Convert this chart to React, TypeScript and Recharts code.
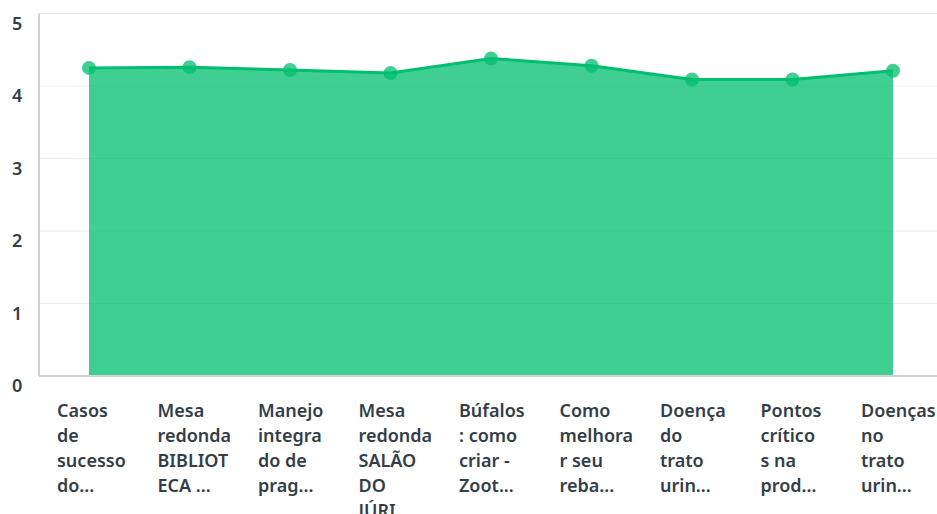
import React from 'react';
import { AreaChart, Area, XAxis, YAxis, CartesianGrid } from 'recharts';

const categories = [
  'Casos\nde\nsucesso\ndo...',
  'Mesa\nredonda\nBIBLIOT\nECA ...',
  'Manejo\nintegra\ndo de\nprag...',
  'Mesa\nredonda\nSALÃO\nDO\nJÚRI',
  'Búfalos\n: como\ncriar -\nZoot...',
  'Como\nmelhora\nr seu\nreba...',
  'Doença\ndo\ntrato\nurin...',
  'Pontos\ncrítico\ns na\nprod...',
  'Doenças\nno\ntrato\nurin...',
];

const scores = [4.25, 4.26, 4.22, 4.18, 4.38, 4.28, 4.09, 4.09, 4.21];

const yTicks = [0, 1, 2, 3, 4, 5];

const data = categories.map((name, i) => ({ name, score: scores[i] }));

const FONT = '"Noto Sans", "Open Sans", sans-serif';
const TEXT = '#333e48';

const XTick = ({ x, y, payload }: any) => {
  const lines = String(payload.value).split('\n');
  return (
    <text x={x - 32} y={y + 33} textAnchor="start" fill={TEXT} fontFamily={FONT} fontSize={18} fontWeight={600}>
      {lines.map((l, i) => (
        <tspan key={i} x={x - 32} dy={i === 0 ? 0 : 25}>
          {l}
        </tspan>
      ))}
    </text>
  );
};

const YTick = ({ y, payload }: any) => (
  <text x={12} y={y + 9} dominantBaseline="central" textAnchor="start" fill={TEXT} fontFamily={FONT} fontSize={18} fontWeight={600}>
    {payload.value}
  </text>
);

export default function App() {
  return (
    <div style={{ position: 'absolute', left: 0, top: 0, width: 937, height: 514, overflow: 'hidden', background: '#fff' }}>
      <AreaChart width={937} height={514} data={data} margin={{ top: 13.5, right: 0, left: 0, bottom: 0 }}>
        <CartesianGrid vertical={false} stroke="#ebebeb" />
        <XAxis
          dataKey="name"
          height={138}
          padding={{ left: 50, right: 44 }}
          axisLine={{ stroke: '#d0d2d3', strokeWidth: 2 }}
          tickLine={false}
          interval={0}
          tick={<XTick />}
        />
        <YAxis
          width={39}
          domain={[0, 5]}
          ticks={yTicks}
          axisLine={{ stroke: '#d0d2d3', strokeWidth: 2 }}
          tickLine={false}
          tick={<YTick />}
        />
        <Area
          type="linear"
          dataKey="score"
          stroke="#00bf6f"
          strokeWidth={3}
          fill="#00bf6f"
          fillOpacity={0.75}
          dot={{ r: 7, fill: '#00bf6f', stroke: 'none' }}
          activeDot={false}
          isAnimationActive={false}
        />
      </AreaChart>
    </div>
  );
}
